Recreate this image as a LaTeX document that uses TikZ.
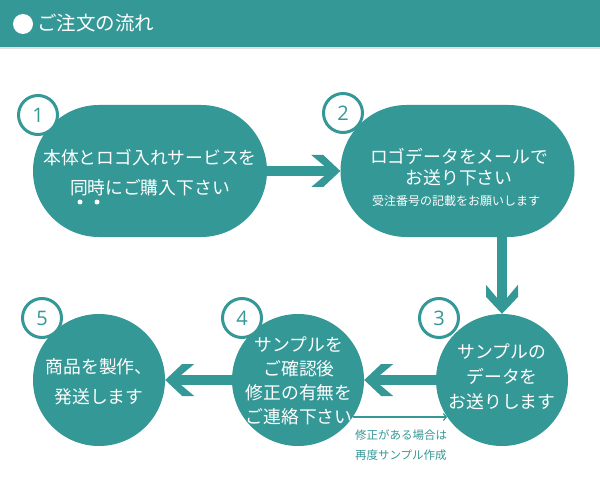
\documentclass[tikz,border=0pt]{standalone}
\usepackage{fontspec}
\setmainfont{Noto Sans CJK JP}
\newfontfamily\numfont{Open Sans}
\usetikzlibrary{shapes.misc,arrows.meta}
\definecolor{teal1}{RGB}{52,152,150}
\begin{document}
\begin{tikzpicture}[x=1pt,y=-1pt,
  pill/.style={rounded rectangle, fill=teal1, minimum width=234pt, minimum height=132pt, inner sep=0pt},
  disc/.style={circle, fill=teal1, minimum size=132pt, inner sep=0pt},
  numc/.style={circle, draw=teal1, line width=3pt, fill=white, minimum size=39pt, inner sep=0pt, text=teal1, font=\numfont\fontsize{20}{20}\selectfont},
  txt/.style={text=white, align=center, inner sep=0pt},
  shaft/.style={draw=teal1, line width=10pt},
  chev/.style={fill=teal1}
]
\useasboundingbox (0,0) rectangle (600,500);
\fill[white] (0,0) rectangle (600,500);
% header
\fill[teal1] (0,0) rectangle (600,47);
\fill[black!12] (0,47) rectangle (600,49);
\node[circle, fill=white, minimum size=20pt, inner sep=0pt] (hdot) at (23,24) {};
\node[anchor=west, text=white, inner sep=0pt, font=\fontsize{19.5}{19.5}\selectfont] (htitle) at (37,23) {ご注文の流れ};
% main shapes
\node[pill] (n1) at (150,171) {};
\node[pill] (n2) at (457.5,171) {};
\node[disc] (n3) at (502,380) {};
\node[disc] (n4) at (298,380) {};
\node[disc] (n5) at (99,380) {};
% texts
\node[txt, font=\fontsize{17.8}{30}\selectfont] (t1) at (150,173) {本体とロゴ入れサービスを\\同時にご購入下さい};
\fill[white] (80,202) circle (2.5);
\fill[white] (97,202) circle (2.5);
\node[txt, font=\fontsize{17.8}{21}\selectfont] (t2) at (459,167.5) {ロゴデータをメールで\\お送り下さい};
\node[txt, font=\fontsize{12}{12}\selectfont] (t2s) at (456,201) {受注番号の記載をお願いします};
\node[txt, font=\fontsize{17.8}{25}\selectfont] (t3) at (502,377) {サンプルの\\データを\\お送りします};
\node[txt, font=\fontsize{17.8}{24}\selectfont] (t4) at (299,381) {サンプルを\\ご確認後\\修正の有無を\\ご連絡下さい};
\node[txt, font=\fontsize{17.8}{30}\selectfont] (t5) at (99,382) {商品を製作、\\発送します};
% arrow 1 -> 2
\draw[shaft] (n1.east) -- ([xshift=-10pt]n2.west);
\fill[chev] (n2.west) -- ++(-17,-16) -- ++(-12,0) -- ++(19,16) -- ++(-19,16) -- ++(12,0) -- cycle;
% arrow 2 -> 3
\draw[shaft] (n3.north |- n2.south) -- ([yshift=10pt]n3.north);
\fill[chev] (n3.north) -- ++(-16,-17) -- ++(0,-12) -- ++(16,19) -- ++(16,-19) -- ++(0,12) -- cycle;
% arrow 3 -> 4
\draw[shaft] (n3.west) -- ([xshift=10pt]n4.east);
\fill[chev] (n4.east) -- ++(17,-16) -- ++(12,0) -- ++(-19,16) -- ++(19,16) -- ++(-12,0) -- cycle;
% arrow 4 -> 5
\draw[shaft] (n4.west) -- ([xshift=10pt]n5.east);
\fill[chev] (n5.east) -- ++(17,-16) -- ++(12,0) -- ++(-19,16) -- ++(19,16) -- ++(-12,0) -- cycle;
% thin feedback arrow 4 -> 3
\draw[teal1, line width=1.2pt, -{Straight Barb[length=3pt,width=7pt]}] (n4.-34) -- (n3.214);
\node[text=teal1, align=left, inner sep=0pt, font=\fontsize{11.5}{20}\selectfont] (note) at (401,445) {修正がある場合は\\再度サンプル作成};
% number badges
\node[numc] (c1) at (38,115) {1};
\node[numc] (c2) at (343,113) {2};
\node[numc] (c3) at (439,318) {3};
\node[numc] (c4) at (242,318) {4};
\node[numc] (c5) at (42,318) {5};
\end{tikzpicture}
\end{document}
